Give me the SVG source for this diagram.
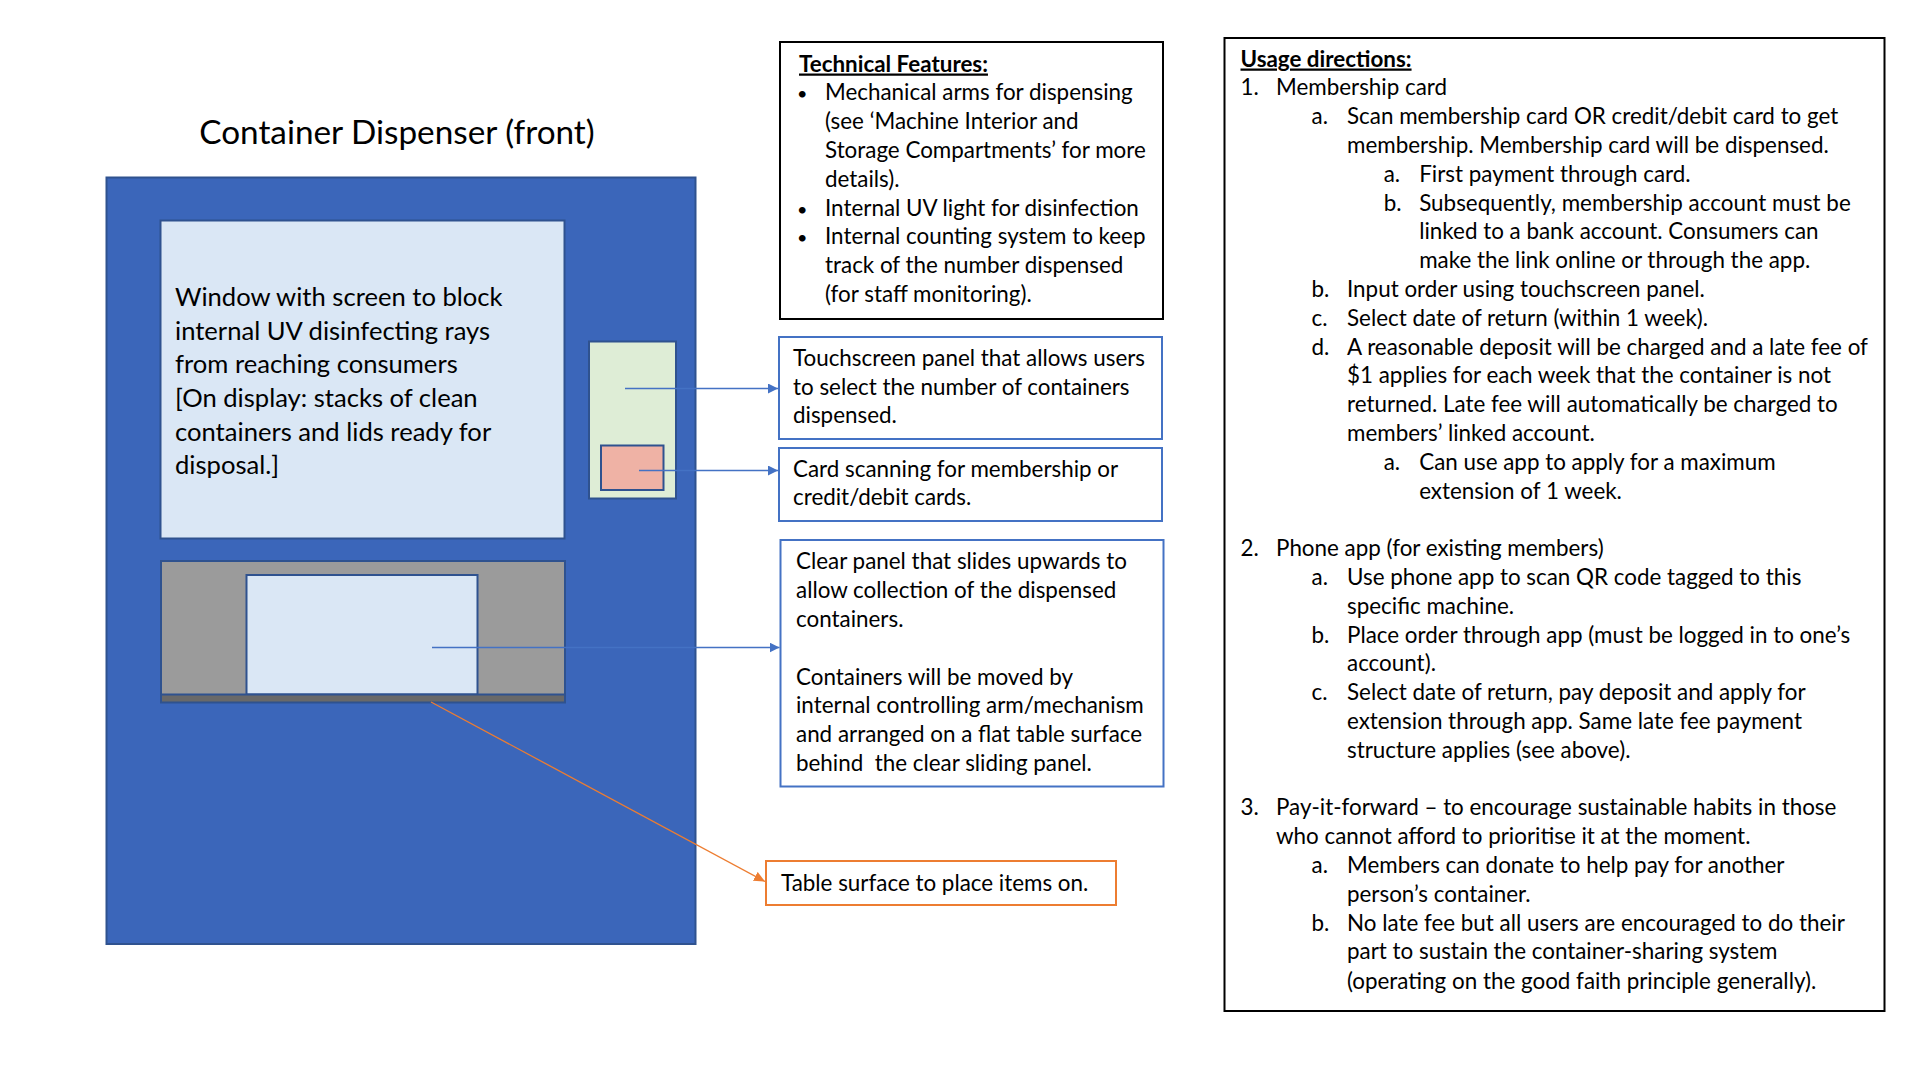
<svg xmlns="http://www.w3.org/2000/svg" width="1920" height="1080" viewBox="0 0 1920 1080">
<style>
  text { font-family: Lato, "Liberation Sans", Arial, sans-serif; fill: #000; }
  .body { font-size: 22.4px; }
  .bullet { font-size: 18px; }
  .win { font-size: 25.6px; }
  .title { font-size: 33.3px; }
  .bold { font-weight: bold; text-decoration: underline; }
  .part { stroke: #2F528F; stroke-width: 2; }
  .bluebox { fill: #fff; stroke: #4472C4; stroke-width: 2; }
  .blackbox { fill: #fff; stroke: #000; stroke-width: 2; }
  .conn { stroke: #4472C4; stroke-width: 1.3; fill: none; }
  .conn-or { stroke: #ED7D31; stroke-width: 1.3; fill: none; }
</style>
<defs>
  <marker id="arrowBlue" markerUnits="userSpaceOnUse" markerWidth="10" markerHeight="10" refX="10" refY="5" orient="auto">
    <path d="M0,0 L10,5 L0,10 z" fill="#4472C4"/>
  </marker>
  <marker id="arrowOrange" markerUnits="userSpaceOnUse" markerWidth="11" markerHeight="10" refX="11" refY="5" orient="auto">
    <path d="M0,0 L11,5 L0,10 z" fill="#ED7D31"/>
  </marker>
</defs>
<rect width="1920" height="1080" fill="#fff"/>

<g id="title">
  <text class="title" x="397" y="144" text-anchor="middle">Container Dispenser (front)</text>
</g>

<g id="dispenser">
  <rect class="part" x="106.5" y="177.5" width="589" height="766.5" fill="#3B66BA"/>
</g>

<g id="window">
  <rect class="part" x="160.5" y="220.5" width="404" height="318" fill="#DAE7F5"/>
  <text class="win" x="175" y="305.8">Window with screen to block</text>
  <text class="win" x="175" y="339.5">internal UV disinfecting rays</text>
  <text class="win" x="175" y="373.2">from reaching consumers</text>
  <text class="win" x="175" y="406.8">[On display: stacks of clean</text>
  <text class="win" x="175" y="440.7">containers and lids ready for</text>
  <text class="win" x="175" y="474.2">disposal.]</text>
</g>

<g id="touchscreen-panel">
  <rect class="part" x="589" y="341.5" width="87" height="157" fill="#DEEDD6"/>
</g>

<g id="card-scanner">
  <rect class="part" x="601" y="445.5" width="62.5" height="44.5" fill="#EFB2A5"/>
</g>

<g id="collection-bay">
  <rect class="part" x="161" y="561" width="404" height="141" fill="#9B9B9B"/>
  <rect class="part" x="246.5" y="575" width="231" height="119.5" fill="#DAE7F5"/>
  <rect class="part" x="161" y="694.5" width="404" height="8" fill="#696969"/>
</g>

<g id="technical-features">
  <rect class="blackbox" x="780" y="42" width="383" height="277"/>
  <text class="body bold" x="799" y="71.5">Technical Features:</text>
  <text class="bullet" x="797" y="99.9">•</text>
  <text class="body" x="825" y="99.9">Mechanical arms for dispensing</text>
  <text class="body" x="825" y="128.8">(see ‘Machine Interior and</text>
  <text class="body" x="825" y="157.7">Storage Compartments’ for more</text>
  <text class="body" x="825" y="186.6">details).</text>
  <text class="bullet" x="797" y="215.5">•</text>
  <text class="body" x="825" y="215.5">Internal UV light for disinfection</text>
  <text class="bullet" x="797" y="244.4">•</text>
  <text class="body" x="825" y="244.4">Internal counting system to keep</text>
  <text class="body" x="825" y="273.3">track of the number dispensed</text>
  <text class="body" x="825" y="302.2">(for staff monitoring).</text>
</g>

<g id="touchscreen-label">
  <rect class="bluebox" x="779" y="337" width="383" height="102"/>
  <text class="body" x="793" y="365.5">Touchscreen panel that allows users</text>
  <text class="body" x="793" y="394.5">to select the number of containers</text>
  <text class="body" x="793" y="423.2">dispensed.</text>
</g>

<g id="card-label">
  <rect class="bluebox" x="779" y="448" width="383" height="73"/>
  <text class="body" x="793" y="476.5">Card scanning for membership or</text>
  <text class="body" x="793" y="504.8">credit/debit cards.</text>
</g>

<g id="clear-panel-label">
  <rect class="bluebox" x="780.5" y="540" width="383" height="246.5"/>
  <text class="body" x="796" y="569">Clear panel that slides upwards to</text>
  <text class="body" x="796" y="597.8">allow collection of the dispensed</text>
  <text class="body" x="796" y="626.6">containers.</text>
  <text class="body" x="796" y="684.6">Containers will be moved by</text>
  <text class="body" x="796" y="713.4">internal controlling arm/mechanism</text>
  <text class="body" x="796" y="742.2">and arranged on a flat table surface</text>
  <text class="body" x="796" y="771" xml:space="preserve">behind  the clear sliding panel.</text>
</g>

<g id="table-label">
  <rect x="766" y="861" width="350" height="44" fill="#fff" stroke="#ED7D31" stroke-width="2"/>
  <text class="body" x="781" y="891">Table surface to place items on.</text>
</g>

<g id="usage-directions">
  <rect class="blackbox" x="1224.5" y="38" width="660" height="973"/>
  <text class="body bold" x="1240.5" y="66.5">Usage directions:</text>
  <text class="body" x="1240.5" y="95.3">1.</text><text class="body" x="1276" y="95.3">Membership card</text>
  <text class="body" x="1311.5" y="124.1">a.</text><text class="body" x="1347" y="124.1">Scan membership card OR credit/debit card to get</text>
  <text class="body" x="1347" y="152.9">membership. Membership card will be dispensed.</text>
  <text class="body" x="1383.7" y="181.7">a.</text><text class="body" x="1419.2" y="181.7">First payment through card.</text>
  <text class="body" x="1383.7" y="210.5">b.</text><text class="body" x="1419.2" y="210.5">Subsequently, membership account must be</text>
  <text class="body" x="1419.2" y="239.3">linked to a bank account. Consumers can</text>
  <text class="body" x="1419.2" y="268.1">make the link online or through the app.</text>
  <text class="body" x="1311.5" y="296.9">b.</text><text class="body" x="1347" y="296.9">Input order using touchscreen panel.</text>
  <text class="body" x="1311.5" y="325.7">c.</text><text class="body" x="1347" y="325.7">Select date of return (within 1 week).</text>
  <text class="body" x="1311.5" y="354.5">d.</text><text class="body" x="1347" y="354.5">A reasonable deposit will be charged and a late fee of</text>
  <text class="body" x="1347" y="383.3">$1 applies for each week that the container is not</text>
  <text class="body" x="1347" y="412.1">returned. Late fee will automatically be charged to</text>
  <text class="body" x="1347" y="440.9">members’ linked account.</text>
  <text class="body" x="1383.7" y="469.7">a.</text><text class="body" x="1419.2" y="469.7">Can use app to apply for a maximum</text>
  <text class="body" x="1419.2" y="498.5">extension of 1 week.</text>
  <text class="body" x="1240.5" y="556.1">2.</text><text class="body" x="1276" y="556.1">Phone app (for existing members)</text>
  <text class="body" x="1311.5" y="584.9">a.</text><text class="body" x="1347" y="584.9">Use phone app to scan QR code tagged to this</text>
  <text class="body" x="1347" y="613.7">specific machine.</text>
  <text class="body" x="1311.5" y="642.5">b.</text><text class="body" x="1347" y="642.5">Place order through app (must be logged in to one’s</text>
  <text class="body" x="1347" y="671.3">account).</text>
  <text class="body" x="1311.5" y="700.1">c.</text><text class="body" x="1347" y="700.1">Select date of return, pay deposit and apply for</text>
  <text class="body" x="1347" y="728.9">extension through app. Same late fee payment</text>
  <text class="body" x="1347" y="757.7">structure applies (see above).</text>
  <text class="body" x="1240.5" y="815.3">3.</text><text class="body" x="1276" y="815.3">Pay-it-forward – to encourage sustainable habits in those</text>
  <text class="body" x="1276" y="844.1">who cannot afford to prioritise it at the moment.</text>
  <text class="body" x="1311.5" y="872.9">a.</text><text class="body" x="1347" y="872.9">Members can donate to help pay for another</text>
  <text class="body" x="1347" y="901.7">person’s container.</text>
  <text class="body" x="1311.5" y="930.5">b.</text><text class="body" x="1347" y="930.5">No late fee but all users are encouraged to do their</text>
  <text class="body" x="1347" y="959.3">part to sustain the container-sharing system</text>
  <text class="body" x="1347" y="988.8">(operating on the good faith principle generally).</text>
</g>

<g id="connectors">
  <line class="conn" x1="625" y1="388.5" x2="778" y2="388.5" marker-end="url(#arrowBlue)"/>
  <line class="conn" x1="639" y1="470.5" x2="778" y2="470.5" marker-end="url(#arrowBlue)"/>
  <line class="conn" x1="432" y1="647.5" x2="779.5" y2="647.5" marker-end="url(#arrowBlue)"/>
  <line class="conn-or" x1="431" y1="702" x2="765" y2="881.5" marker-end="url(#arrowOrange)"/>
</g>
</svg>
